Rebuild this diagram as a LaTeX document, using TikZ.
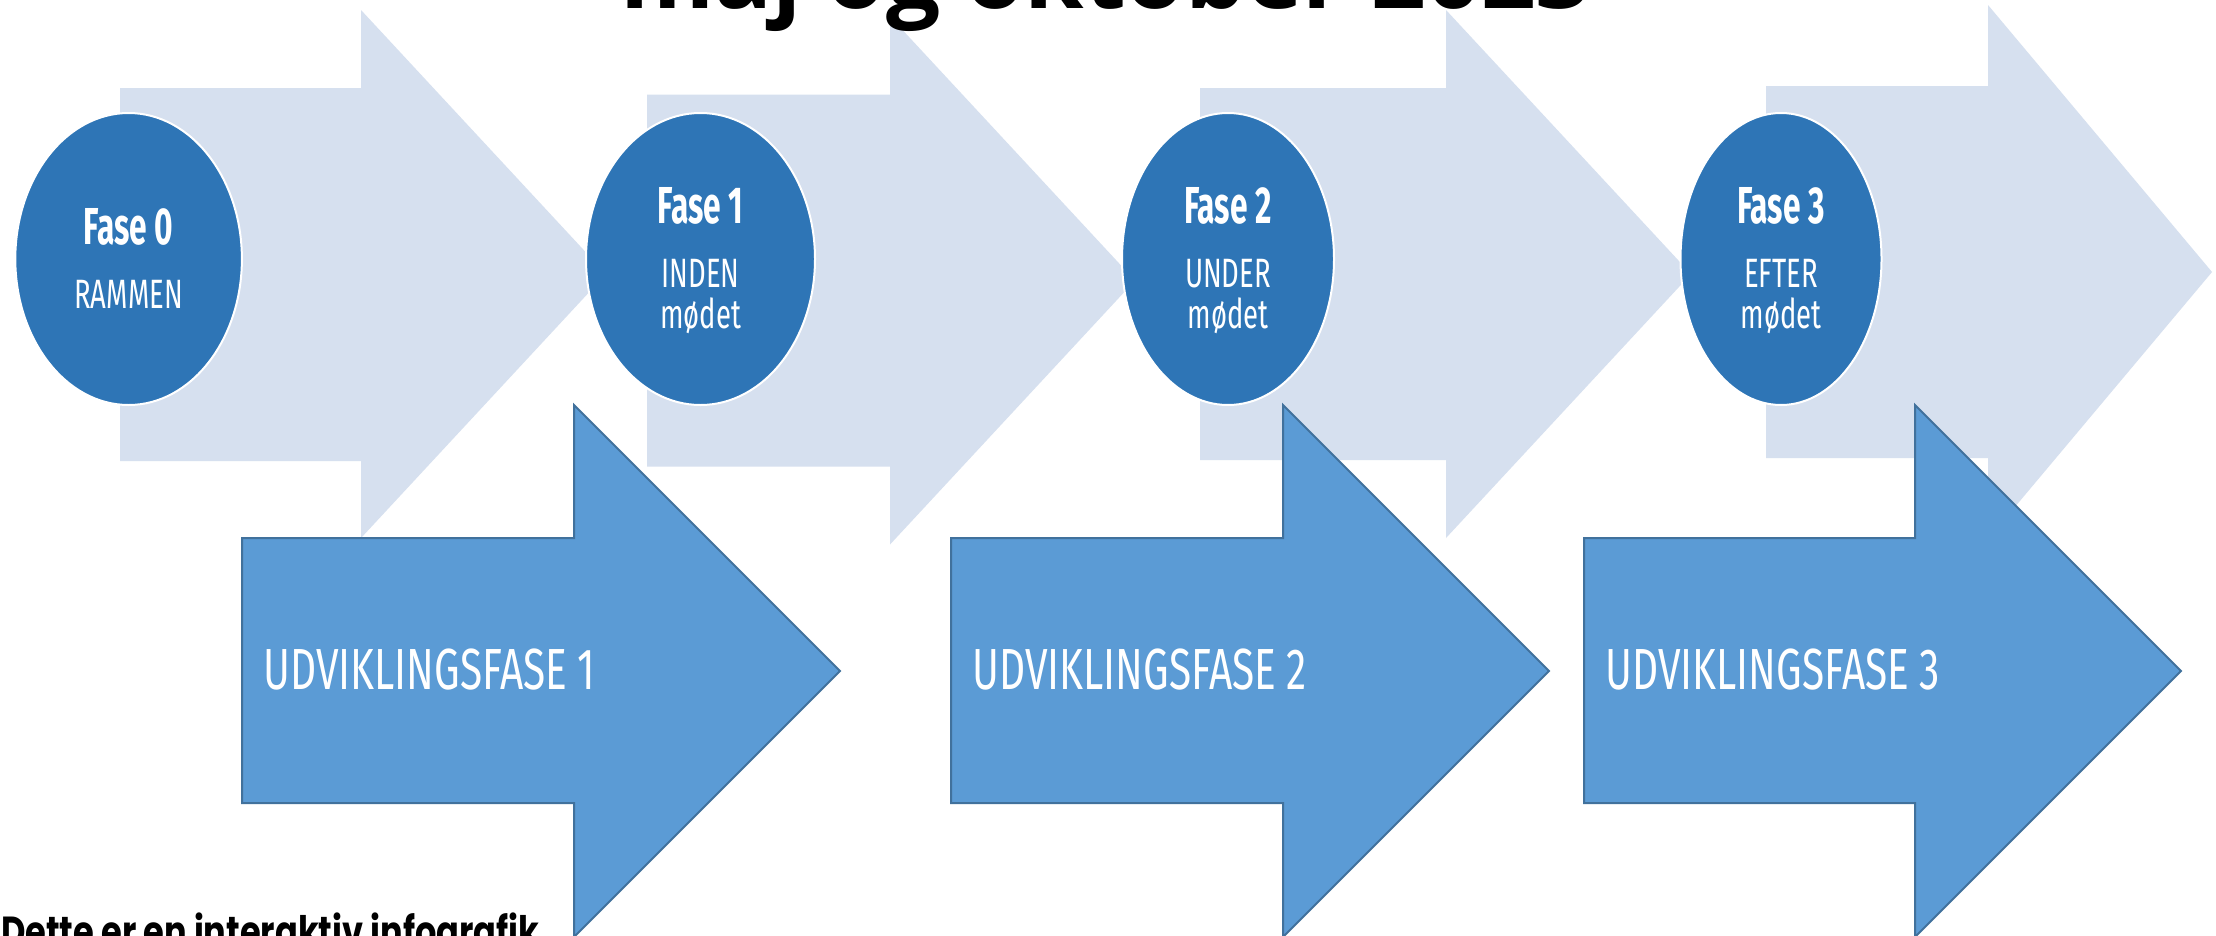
\documentclass[tikz,border=0pt]{standalone}
\usepackage{fontspec}
\usetikzlibrary{shapes.geometric}
\setmainfont{Fira Sans}
\newfontfamily\phaseheadfont[FakeStretch=0.61]{Fira Sans}
\newfontfamily\phasesubfont[FakeStretch=0.67]{Fira Sans}
\newfontfamily\stagefont[FakeStretch=0.70]{Fira Sans}
\newfontfamily\titlefont{Open Sans}
\newfontfamily\notefont[FakeStretch=0.8]{Poppins}
\definecolor{paleband}{RGB}{214,224,239}
\definecolor{phasefill}{RGB}{46,117,182}
\definecolor{stagefill}{RGB}{91,155,213}
\definecolor{stageedge}{RGB}{65,113,156}
\begin{document}
\begin{tikzpicture}[x=1pt,y=-1pt,
  palearrow/.style={fill=paleband},
  stagearrow/.style={fill=stagefill, draw=stageedge, line width=2pt, line join=miter},
  phase/.style={ellipse, fill=phasefill, draw=white, line width=2pt, inner sep=0pt,
                minimum height=292pt},
  phasehead/.style={text=white, font=\phaseheadfont\bfseries\fontsize{52}{52}\selectfont,
                    anchor=base, inner sep=0pt},
  phasesub/.style={text=white, font=\phasesubfont\fontsize{41}{41}\selectfont,
                   anchor=base, inner sep=0pt},
  stagetext/.style={text=white, font=\stagefont\fontsize{58}{58}\selectfont,
                    anchor=base west, inner sep=0pt},
]
\useasboundingbox (0,0) rectangle (2216,935);
\fill[white] (0,0) rectangle (2216,935);
\clip (0,0) rectangle (2216,935);

% pale background arrows
\fill[palearrow] (120,88) -- (361,88) -- (361,10) -- (606,274) -- (361,538) -- (361,461) -- (120,461) -- cycle;
\fill[palearrow] (647,94.5) -- (890,94.5) -- (890,16.5) -- (1135,280.5) -- (890,544.5) -- (890,466.5) -- (647,466.5) -- cycle;
\fill[palearrow] (1200,88) -- (1446,88) -- (1446,10) -- (1691,274) -- (1446,538) -- (1446,460) -- (1200,460) -- cycle;
\fill[palearrow] (1766,86) -- (1988,86) -- (1988,5) -- (2212,272) -- (1988,539) -- (1988,458) -- (1766,458) -- cycle;

% title (cut off at the top)
\node[font=\titlefont\bfseries\fontsize{96}{96}\selectfont, anchor=base, inner sep=0pt]
  (title) at (1105.5,8) {maj og oktober 2023};

% phase ellipses
\node[phase, minimum width=226.6pt] (e0) at (128.6,259) {};
\node[phase, minimum width=229pt] (e1) at (700.5,259) {};
\node[phase, minimum width=212pt] (e2) at (1228,259) {};
\node[phase, minimum width=201pt] (e3) at (1781,259) {};

\node[phasehead] (e0a) at (128.6,244) {Fase 0};
\node[phasesub]  (e0b) at (128.6,308) {RAMMEN};

\node[phasehead] (e1a) at (700.5,223) {Fase 1};
\node[phasesub]  (e1b) at (700.5,287) {INDEN};
\node[phasesub]  (e1c) at (700.5,328) {mødet};

\node[phasehead] (e2a) at (1228,223) {Fase 2};
\node[phasesub]  (e2b) at (1228,287) {UNDER};
\node[phasesub]  (e2c) at (1228,328) {mødet};

\node[phasehead] (e3a) at (1781,223) {Fase 3};
\node[phasesub]  (e3b) at (1781,287) {EFTER};
\node[phasesub]  (e3c) at (1781,328) {mødet};

% development stage arrows
\draw[stagearrow] (242,538) -- (574,538) -- (574,405) -- (840,671) -- (574,937) -- (574,803) -- (242,803) -- cycle;
\draw[stagearrow] (951,538) -- (1283,538) -- (1283,405) -- (1549,671) -- (1283,937) -- (1283,803) -- (951,803) -- cycle;
\draw[stagearrow] (1584,538) -- (1915,538) -- (1915,405) -- (2181,671) -- (1915,937) -- (1915,803) -- (1584,803) -- cycle;

\node[stagetext] (s1) at (263,689) {UDVIKLINGSFASE 1};
\node[stagetext] (s2) at (972,689) {UDVIKLINGSFASE 2};
\node[stagetext] (s3) at (1605,689) {UDVIKLINGSFASE 3};

% note at the bottom (cut off)
\node[font=\notefont\bfseries\fontsize{42}{42}\selectfont, anchor=base west, inner sep=0pt]
  (note) at (1,946) {Dette er en interaktiv infografik};
\end{tikzpicture}
\end{document}
